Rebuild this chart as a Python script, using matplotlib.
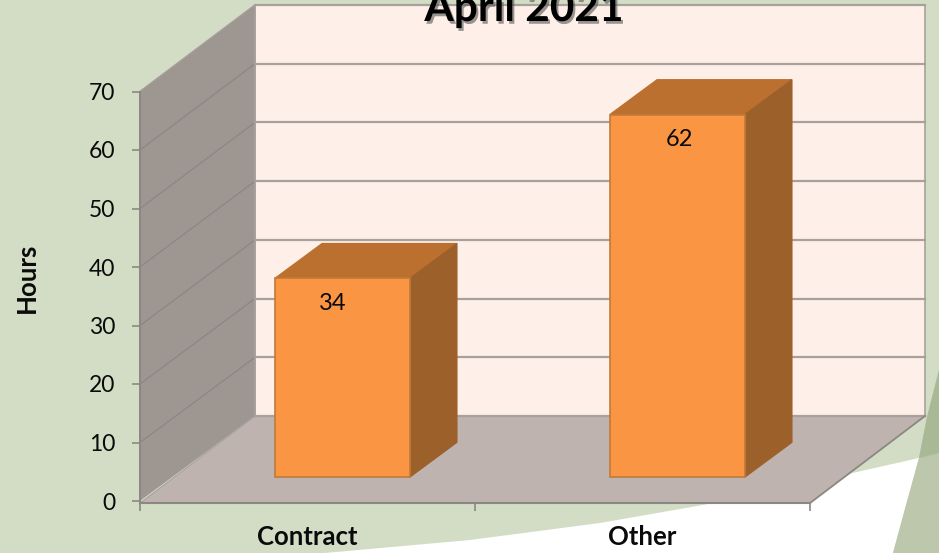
"""Pseudo-3D column chart of hours for April 2021, drawn on the front plane axes."""
import matplotlib
matplotlib.use("Agg")
import matplotlib.pyplot as plt
import matplotlib.patheffects as pe
from matplotlib.patches import Polygon

CATEGORIES = ["Contract", "Other"]
HOURS = [34, 62]
Y_TICKS = [0, 10, 20, 30, 40, 50, 60, 70]
TITLE = "April 2021"
Y_LABEL = "Hours"

BG = "#d3ddc5"
BAND = "#bcc7ac"
BAND_DARK = "#a9b996"
WALL_BACK = "#fef0e9"
WALL_SIDE = "#9e9691"
FLOOR = "#bfb3b0"
GRID = "#a8a09c"
GRID_SIDE = "#8b8783"
BAR_FRONT = "#fa9543"
BAR_TOP = "#bc7030"
BAR_SIDE = "#9c602a"
BAR_EDGE = "#c27a38"
TEXT = "#0a0a0a"

W, H = 939, 553
# depth of the chart box, in data units of the front plane
DX = 115 / 335
DY = 85 / 5.85
WALL_SCALE = 411 / 409.5  # back wall is drawn a touch taller than the front plane
BAR_W = 135 / 335
BAR_SHIFT_X = 0.104  # floor offset of the columns
BAR_START_Y = 0.28
BAR_DEPTH = 0.41
LABEL_SHIFT_PX = [-10, 2]  # data labels are not centred on their columns

plt.rcParams["font.family"] = ["Lato", "DejaVu Sans"]

fig = plt.figure(figsize=(W / 100, H / 100), dpi=100, facecolor=BG)

# slide background, in pixels from the top left
bg = fig.add_axes([0, 0, 1, 1], zorder=-1)
bg.set_xlim(0, W)
bg.set_ylim(H, 0)
bg.axis("off")
white = [(325, 553), (470, 540), (600, 523), (703, 505), (857, 472), (919, 458),
         (893, 553)]
bg.add_patch(Polygon(white, fc="white", ec="none"))
band = [(893, 553), (906, 505), (919, 458), (927, 417), (939, 370), (939, 553)]
bg.add_patch(Polygon(band, fc=BAND, ec="none"))
band_dark = [(919, 458), (927, 417), (939, 370), (939, 453)]
bg.add_patch(Polygon(band_dark, fc=BAND_DARK, ec="none"))

ax = fig.add_axes([140 / W, 1 - 501 / H, 670 / W, 409.5 / H], facecolor="none")
ax.set_xlim(0, 2)
ax.set_ylim(0, 70)

top = Y_TICKS[-1]
wall_top = top * WALL_SCALE + DY
ax.add_patch(Polygon([(0, 0), (DX, DY), (2 + DX, DY), (2 + DX, wall_top), (DX, wall_top)],
                     fc=WALL_BACK, ec="none", clip_on=False, zorder=1))
ax.add_patch(Polygon([(0, 0), (DX, DY), (DX, wall_top), (0, top)],
                     fc=WALL_SIDE, ec="none", clip_on=False, zorder=1.1))
ax.add_patch(Polygon([(0, -0.35), (2, -0.35), (2 + DX, DY), (DX, DY)],
                     fc=FLOOR, ec="none", clip_on=False, zorder=1.1))

for v in Y_TICKS:
    back = v * WALL_SCALE + DY
    ax.plot([DX, 2 + DX], [back, back], color=GRID, lw=1.6, clip_on=False, zorder=1.2)
    if v > 0:
        ax.plot([0, DX], [v, back], color=GRID_SIDE, lw=0.9, clip_on=False, zorder=1.2)
ax.plot([2 + DX, 2 + DX], [DY, wall_top], color=GRID, lw=1.2, clip_on=False, zorder=1.2)
ax.plot([DX, DX], [DY, wall_top], color=GRID, lw=1.4, clip_on=False, zorder=1.2)
ax.plot([0, DX], [top, wall_top], color=GRID, lw=1, clip_on=False, zorder=1.2)
ax.plot([2, 2 + DX], [-0.35, DY], color=GRID_SIDE, lw=1.3, clip_on=False, zorder=1.2)
ax.plot([0, DX], [-0.35, DY], color=GRID, lw=0.8, clip_on=False, zorder=1.2)
ax.plot([0, 0], [-0.35, top], color=GRID_SIDE, lw=1.4, clip_on=False, zorder=1.3)
ax.plot([0, 2], [-0.35, -0.35], color=GRID_SIDE, lw=1.5, clip_on=False, zorder=1.3)

# columns: front face is a real bar, top and side follow the same depth vector
centers = [i + 0.5 + BAR_SHIFT_X for i in range(len(HOURS))]
base = BAR_START_Y * DY
dx = BAR_DEPTH * DX
dy = BAR_DEPTH * DY
ax.bar(centers, HOURS, width=BAR_W, bottom=base, color=BAR_FRONT, edgecolor=BAR_EDGE,
       linewidth=1.2, clip_on=False, zorder=3)
for c, v, shift in zip(centers, HOURS, LABEL_SHIFT_PX):
    x0, x1 = c - BAR_W / 2, c + BAR_W / 2
    y1 = base + v
    ax.add_patch(Polygon([(x0, y1), (x1, y1), (x1 + dx, y1 + dy), (x0 + dx, y1 + dy)],
                         fc=BAR_TOP, ec=BAR_TOP, lw=0.8, clip_on=False, zorder=2.8))
    ax.add_patch(Polygon([(x1, base), (x1 + dx, base + dy), (x1 + dx, y1 + dy), (x1, y1)],
                         fc=BAR_SIDE, ec=BAR_SIDE, lw=0.8, clip_on=False, zorder=2.9))
    ax.annotate(str(v), (c, y1), xytext=(shift * 0.72, -18), textcoords="offset points",
                ha="center", va="center", fontsize=17, color=TEXT, zorder=4,
                annotation_clip=False)

for side in ax.spines.values():
    side.set_visible(False)
ax.set_yticks(Y_TICKS)
ax.tick_params(axis="y", length=5.8, width=1.2, color=GRID_SIDE, labelsize=16.5,
               labelcolor=TEXT, pad=12)
ax.set_xticks([0, 1, 2], labels=[])
ax.tick_params(axis="x", which="major", length=5, width=1.2, color=GRID_SIDE, pad=0)
ax.xaxis.set_ticks_position("bottom")
ax.spines["bottom"].set_position(("outward", 2))
ax.set_xticks([i + 0.5 for i in range(len(CATEGORIES))], labels=CATEGORIES, minor=True)
ax.tick_params(axis="x", which="minor", length=0, labelsize=18.5, labelcolor=TEXT, pad=15)
for lab in ax.get_xticklabels(minor=True):
    lab.set_fontweight("bold")

fig.text(27 / W, 1 - 278 / H, Y_LABEL, rotation=90, ha="center", va="center",
         fontsize=18.5, fontweight="bold", color=TEXT)
fig.text(524 / W, 1 - 21 / H, TITLE, ha="center", va="baseline", fontsize=30.5,
         fontweight="bold", color="black", zorder=5,
         path_effects=[pe.withSimplePatchShadow(offset=(1.5, -2), shadow_rgbFace="#555555",
                                                alpha=0.6)])

fig.savefig("out.png", dpi=100, facecolor=BG)
